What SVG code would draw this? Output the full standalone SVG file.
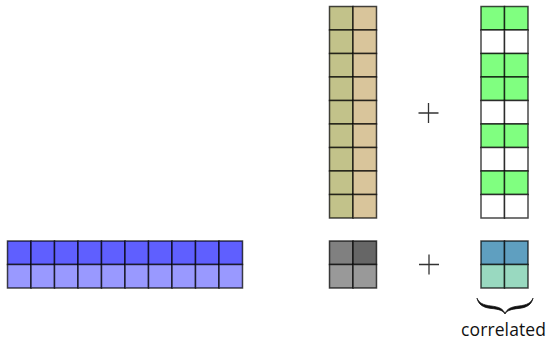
<svg xmlns="http://www.w3.org/2000/svg" width="550" height="339" viewBox="0 0 550 339">
<style>
rect.c{stroke:#000;stroke-opacity:0.72;stroke-width:1.5}
.olive{fill:#c2c28a}.tan{fill:#d9c59b}
.g{fill:#80ff80}.w{fill:#ffffff}
.b1{fill:#5f5fff}.b2{fill:#9999ff}
.k1{fill:#808080}.k2{fill:#666666}.k3{fill:#999999}
.t1{fill:#5f9fc0}.t2{fill:#99d9c0}
.op{stroke:#333;stroke-width:1.3;fill:none}
text{font-family:"Open Sans","DejaVu Sans",sans-serif;font-size:17.5px;fill:#111}
</style>
<rect width="550" height="339" fill="#fff"/>
<g id="olive-matrix">
<rect class="c olive" x="329.5" y="6.5" width="23.5" height="23.5"/><rect class="c tan" x="353" y="6.5" width="23.5" height="23.5"/>
<rect class="c olive" x="329.5" y="30" width="23.5" height="23.5"/><rect class="c tan" x="353" y="30" width="23.5" height="23.5"/>
<rect class="c olive" x="329.5" y="53.5" width="23.5" height="23.5"/><rect class="c tan" x="353" y="53.5" width="23.5" height="23.5"/>
<rect class="c olive" x="329.5" y="77" width="23.5" height="23.5"/><rect class="c tan" x="353" y="77" width="23.5" height="23.5"/>
<rect class="c olive" x="329.5" y="100.5" width="23.5" height="23.5"/><rect class="c tan" x="353" y="100.5" width="23.5" height="23.5"/>
<rect class="c olive" x="329.5" y="124" width="23.5" height="23.5"/><rect class="c tan" x="353" y="124" width="23.5" height="23.5"/>
<rect class="c olive" x="329.5" y="147.5" width="23.5" height="23.5"/><rect class="c tan" x="353" y="147.5" width="23.5" height="23.5"/>
<rect class="c olive" x="329.5" y="171" width="23.5" height="23.5"/><rect class="c tan" x="353" y="171" width="23.5" height="23.5"/>
<rect class="c olive" x="329.5" y="194.5" width="23.5" height="23.5"/><rect class="c tan" x="353" y="194.5" width="23.5" height="23.5"/>
</g>
<g id="green-matrix">
<rect class="c g" x="481" y="6.5" width="23.5" height="23.5"/><rect class="c g" x="504.5" y="6.5" width="23.5" height="23.5"/>
<rect class="c w" x="481" y="30" width="23.5" height="23.5"/><rect class="c w" x="504.5" y="30" width="23.5" height="23.5"/>
<rect class="c g" x="481" y="53.5" width="23.5" height="23.5"/><rect class="c g" x="504.5" y="53.5" width="23.5" height="23.5"/>
<rect class="c g" x="481" y="77" width="23.5" height="23.5"/><rect class="c g" x="504.5" y="77" width="23.5" height="23.5"/>
<rect class="c w" x="481" y="100.5" width="23.5" height="23.5"/><rect class="c w" x="504.5" y="100.5" width="23.5" height="23.5"/>
<rect class="c g" x="481" y="124" width="23.5" height="23.5"/><rect class="c g" x="504.5" y="124" width="23.5" height="23.5"/>
<rect class="c w" x="481" y="147.5" width="23.5" height="23.5"/><rect class="c w" x="504.5" y="147.5" width="23.5" height="23.5"/>
<rect class="c g" x="481" y="171" width="23.5" height="23.5"/><rect class="c g" x="504.5" y="171" width="23.5" height="23.5"/>
<rect class="c w" x="481" y="194.5" width="23.5" height="23.5"/><rect class="c w" x="504.5" y="194.5" width="23.5" height="23.5"/>
</g>
<g id="blue-matrix">
<rect class="c b1" x="7.5" y="241" width="23.5" height="23.5"/><rect class="c b2" x="7.5" y="264.5" width="23.5" height="23.5"/>
<rect class="c b1" x="31" y="241" width="23.5" height="23.5"/><rect class="c b2" x="31" y="264.5" width="23.5" height="23.5"/>
<rect class="c b1" x="54.5" y="241" width="23.5" height="23.5"/><rect class="c b2" x="54.5" y="264.5" width="23.5" height="23.5"/>
<rect class="c b1" x="78" y="241" width="23.5" height="23.5"/><rect class="c b2" x="78" y="264.5" width="23.5" height="23.5"/>
<rect class="c b1" x="101.5" y="241" width="23.5" height="23.5"/><rect class="c b2" x="101.5" y="264.5" width="23.5" height="23.5"/>
<rect class="c b1" x="125" y="241" width="23.5" height="23.5"/><rect class="c b2" x="125" y="264.5" width="23.5" height="23.5"/>
<rect class="c b1" x="148.5" y="241" width="23.5" height="23.5"/><rect class="c b2" x="148.5" y="264.5" width="23.5" height="23.5"/>
<rect class="c b1" x="172" y="241" width="23.5" height="23.5"/><rect class="c b2" x="172" y="264.5" width="23.5" height="23.5"/>
<rect class="c b1" x="195.5" y="241" width="23.5" height="23.5"/><rect class="c b2" x="195.5" y="264.5" width="23.5" height="23.5"/>
<rect class="c b1" x="219" y="241" width="23.5" height="23.5"/><rect class="c b2" x="219" y="264.5" width="23.5" height="23.5"/>
</g>
<g id="gray-matrix">
<rect class="c k1" x="329.5" y="241" width="23.5" height="23.5"/><rect class="c k2" x="353" y="241" width="23.5" height="23.5"/>
<rect class="c k3" x="329.5" y="264.5" width="23.5" height="23.5"/><rect class="c k3" x="353" y="264.5" width="23.5" height="23.5"/>
</g>
<g id="teal-matrix">
<rect class="c t1" x="481" y="241" width="23.5" height="23.5"/><rect class="c t1" x="504.5" y="241" width="23.5" height="23.5"/>
<rect class="c t2" x="481" y="264.5" width="23.5" height="23.5"/><rect class="c t2" x="504.5" y="264.5" width="23.5" height="23.5"/>
</g>
<g id="operators">
<path class="op" d="M418.5 113H438.5M428.5 103V123"/>
<path class="op" d="M419 264.5H439M429 254.5V274.5"/>
<path d="M477 298.2C479 303 483 305 491 306C499 307 503 308.5 505 313.8C507 308.5 511 307 519 306C527 305 531 303 533 298.2C531.5 304.5 527 307.6 519 308.4C511 309.2 507 310.5 505 313.8C503 310.5 499 309.2 491 308.4C483 307.6 478.5 304.5 477 298.2Z" fill="#111" stroke="#111" stroke-width="0.8" stroke-linejoin="round"/>
</g>
<g id="label">
<text x="503.5" y="335.5" text-anchor="middle" textLength="85" lengthAdjust="spacing">correlated</text>
</g>
</svg>
